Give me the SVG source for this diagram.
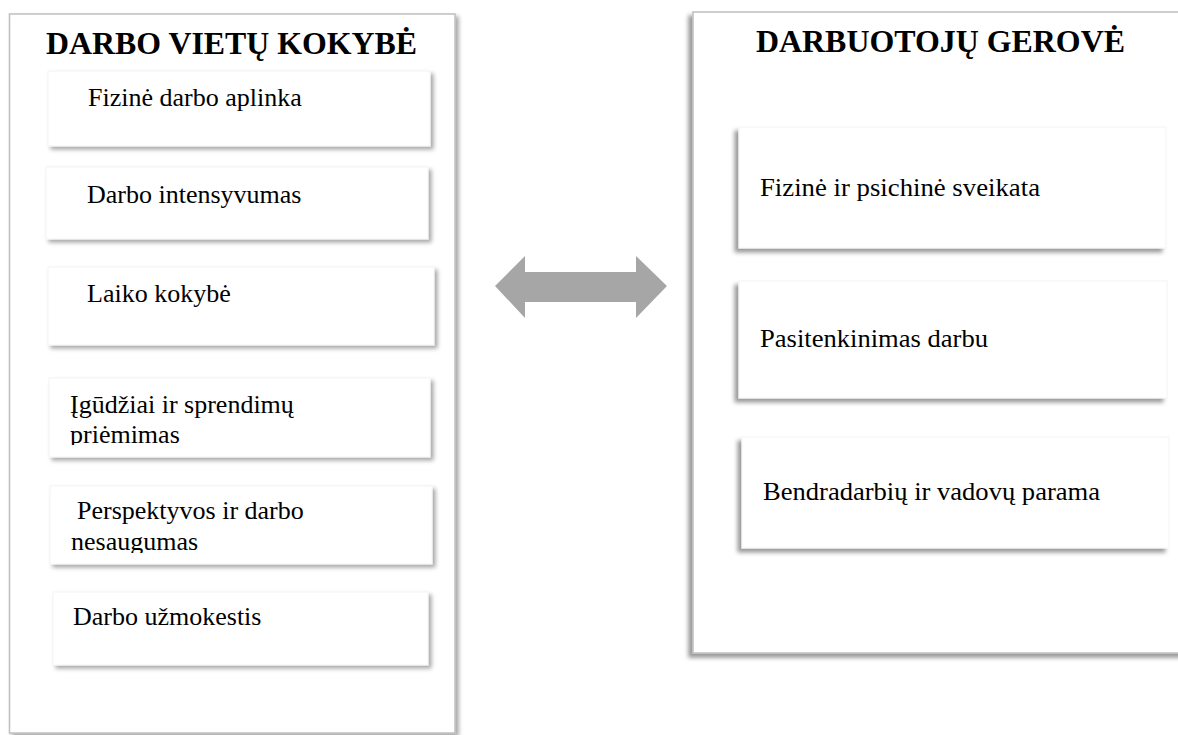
<svg xmlns="http://www.w3.org/2000/svg" width="1178" height="735" viewBox="0 0 1178 735">
  <style>
    .outer { fill: #ffffff; stroke: #bfbfbf; stroke-width: 1.5; }
    .inner { fill: #ffffff; stroke: #f4f4f4; stroke-width: 1; }
    .title { font-family: "Liberation Serif", "Times New Roman", serif; font-weight: bold; font-size: 32px; fill: #000000; }
    .label { font-family: "Liberation Serif", "Times New Roman", serif; font-size: 26px; fill: #000000; }
  </style>
  <defs>
    <filter id="shR" x="-10%" y="-10%" width="130%" height="130%">
      <feDropShadow dx="3" dy="3" stdDeviation="2" flood-color="#000000" flood-opacity="0.35"/>
    </filter>
    <filter id="shL" x="-10%" y="-10%" width="130%" height="130%">
      <feDropShadow dx="-4" dy="4" stdDeviation="2" flood-color="#000000" flood-opacity="0.4"/>
    </filter>
    <clipPath id="clip4"><rect x="49" y="378" width="381" height="67"/></clipPath>
    <clipPath id="clip5"><rect x="50" y="486" width="382" height="67"/></clipPath>
  </defs>
  <rect width="1178" height="735" fill="#ffffff"/>

  <g id="left-panel">
    <rect class="outer" x="9.5" y="14" width="445.5" height="719" filter="url(#shR)"/>
    <text class="title" x="46" y="54" textLength="371" lengthAdjust="spacingAndGlyphs">DARBO VIETŲ KOKYBĖ</text>
  </g>

  <g id="node-fizine-aplinka">
    <rect class="inner" x="48" y="71" width="382" height="75" filter="url(#shR)"/>
    <text class="label" x="88" y="106">Fizinė darbo aplinka</text>
  </g>
  <g id="node-intensyvumas">
    <rect class="inner" x="46" y="167" width="382" height="72" filter="url(#shR)"/>
    <text class="label" x="87" y="203">Darbo intensyvumas</text>
  </g>
  <g id="node-laiko-kokybe">
    <rect class="inner" x="48" y="267" width="386" height="78" filter="url(#shR)"/>
    <text class="label" x="87" y="302">Laiko kokybė</text>
  </g>
  <g id="node-igudziai">
    <rect class="inner" x="49" y="378" width="381" height="79" filter="url(#shR)"/>
    <g clip-path="url(#clip4)">
      <text class="label" x="70" y="413">Įgūdžiai ir sprendimų</text>
      <text class="label" x="70" y="443">priėmimas</text>
    </g>
  </g>
  <g id="node-perspektyvos">
    <rect class="inner" x="50" y="486" width="382" height="78" filter="url(#shR)"/>
    <g clip-path="url(#clip5)">
      <text class="label" x="77" y="519">Perspektyvos ir darbo</text>
      <text class="label" x="71" y="550">nesaugumas</text>
    </g>
  </g>
  <g id="node-uzmokestis">
    <rect class="inner" x="53" y="592" width="375" height="73" filter="url(#shR)"/>
    <text class="label" x="73" y="625">Darbo užmokestis</text>
  </g>

  <g id="connectors">
    <polygon points="495,286 525,256 525,272 636,272 636,256 667,286 636,318 636,302 525,302 525,318" fill="#a6a6a6"/>
  </g>

  <g id="right-panel">
    <rect class="outer" x="693" y="12" width="500" height="641" filter="url(#shL)"/>
    <text class="title" x="756" y="52" textLength="369" lengthAdjust="spacingAndGlyphs">DARBUOTOJŲ GEROVĖ</text>
  </g>

  <g id="node-sveikata">
    <rect class="inner" x="739" y="127" width="427" height="121" filter="url(#shL)"/>
    <text class="label" x="760" y="196" textLength="280" lengthAdjust="spacingAndGlyphs">Fizinė ir psichinė sveikata</text>
  </g>
  <g id="node-pasitenkinimas">
    <rect class="inner" x="739" y="281" width="428" height="117" filter="url(#shL)"/>
    <text class="label" x="760" y="347" textLength="228" lengthAdjust="spacingAndGlyphs">Pasitenkinimas darbu</text>
  </g>
  <g id="node-parama">
    <rect class="inner" x="742" y="437" width="427" height="111" filter="url(#shL)"/>
    <text class="label" x="763" y="500" textLength="337" lengthAdjust="spacingAndGlyphs">Bendradarbių ir vadovų parama</text>
  </g>
</svg>
